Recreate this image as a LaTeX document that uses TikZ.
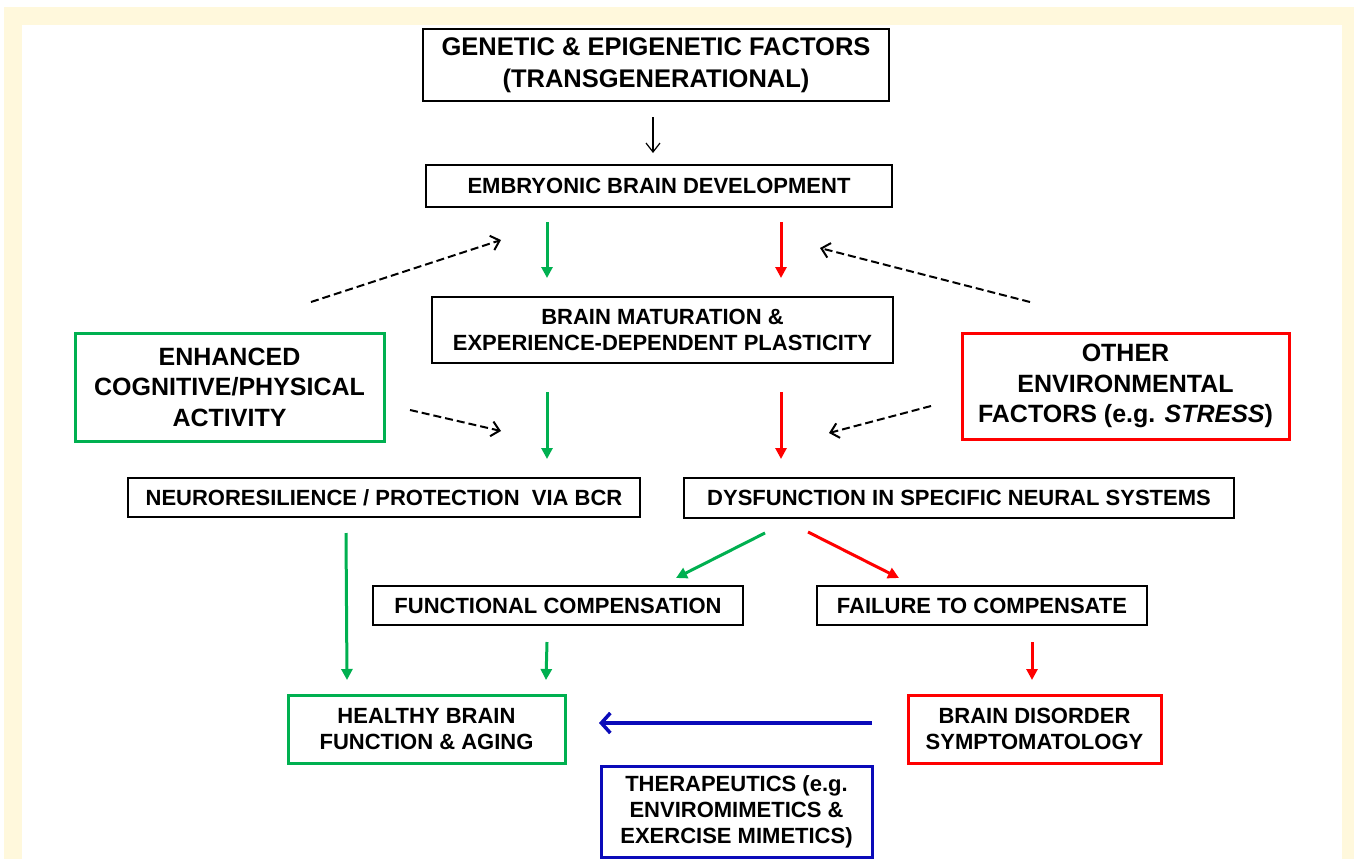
\documentclass[tikz,border=0pt]{standalone}
\usepackage{fontspec}
\setmainfont{Liberation Sans}
\usetikzlibrary{arrows.meta}
\definecolor{pgreen}{RGB}{0,176,80}
\definecolor{pred}{RGB}{255,0,0}
\definecolor{pblue}{RGB}{10,10,185}
\definecolor{pframe}{RGB}{255,248,220}
\tikzset{plainbox/.style={draw=black, line width=1.3pt, fill=white, align=center, inner sep=0pt,
  font=\fontsize{22}{26}\selectfont\bfseries},
gbox/.style={plainbox, draw=pgreen, line width=3pt},
rbox/.style={plainbox, draw=pred, line width=3pt},
bbox/.style={plainbox, draw=pblue, line width=3pt},
garrow/.style={-{Triangle[length=11pt,width=11pt]}, line width=3pt, draw=pgreen},
rarrow/.style={garrow, draw=pred},
dasharrow/.style={-{Straight Barb[length=8pt,width=15pt]}, line width=2pt, dash pattern=on 8pt off 4pt},
% default tip of the plain arrows is an open barb
barb/.style={-{Straight Barb[length=9pt,width=#1]}},
barb/.default={14pt}}

\begin{document}
\begin{tikzpicture}[x=1pt,y=-1pt]
\useasboundingbox (0,0) rectangle (1354,859);
\fill[pframe] (4,7) rectangle (1354,859);
\fill[white] (22,25) rectangle (1342,859);

\node[plainbox, minimum width=466, minimum height=72, font=\fontsize{25.5}{32}\selectfont\bfseries] (genes) at (656,65)
  {GENETIC \& EPIGENETIC FACTORS\\(TRANSGENERATIONAL)};
\node[plainbox, minimum width=466, minimum height=42] (embryo) at (659,186) {EMBRYONIC BRAIN DEVELOPMENT};
\node[plainbox, minimum width=461, minimum height=66] (mature) at (662.5,330)
  {BRAIN MATURATION \&\\EXPERIENCE-DEPENDENT PLASTICITY};
\node[gbox, minimum width=309, minimum height=108, font=\fontsize{25}{30.5}\selectfont\bfseries] (active) at (229.5,387)
  {ENHANCED\\COGNITIVE/PHYSICAL\\ACTIVITY};
\node[rbox, minimum width=327, minimum height=106, font=\fontsize{25}{30.5}\selectfont\bfseries] (environ) at (1125.5,386)
  {OTHER\\ENVIRONMENTAL\\FACTORS (e.g. \textit{STRESS})};
\node[plainbox, minimum width=512, minimum height=39] (resil) at (384,497.5)
  {NEURORESILIENCE / PROTECTION~~VIA BCR};
\node[plainbox, minimum width=550, minimum height=40] (dysfunc) at (959,498)
  {DYSFUNCTION IN SPECIFIC NEURAL SYSTEMS};
\node[plainbox, minimum width=370, minimum height=39] (comp) at (558,605.5) {FUNCTIONAL COMPENSATION};
\node[plainbox, minimum width=330, minimum height=39] (fail) at (982,605.5) {FAILURE TO COMPENSATE};
\node[gbox, minimum width=277, minimum height=68] (healthy) at (426.5,729) {HEALTHY BRAIN\\FUNCTION \& AGING};
\node[rbox, minimum width=253, minimum height=68] (disorder) at (1034.5,729) {BRAIN DISORDER\\SYMPTOMATOLOGY};
\node[bbox, minimum width=271, minimum height=91] (therapy) at (736.5,811.5)
  {THERAPEUTICS (e.g.\\ENVIROMIMETICS \&\\EXERCISE MIMETICS)};

\coordinate (k1) at (653,117);  \coordinate (k2) at (653,153);
\coordinate (g1) at (547,222);  \coordinate (g2) at (547,278);
\coordinate (g3) at (547,392);  \coordinate (g4) at (547,459);
\coordinate (g5) at (765,533);  \coordinate (g6) at (676,578);
\coordinate (g7) at (346,533);  \coordinate (g8) at (347,680);
\coordinate (g9) at (547,642);  \coordinate (g10) at (546,680);
\coordinate (r1) at (781,222);  \coordinate (r2) at (781,278);
\coordinate (r3) at (781,392);  \coordinate (r4) at (781,459);
\coordinate (r5) at (808,532);  \coordinate (r6) at (899,578);
\coordinate (r7) at (1032,642); \coordinate (r8) at (1032,680);
\coordinate (d1) at (311,302);  \coordinate (d2) at (501,240);
\coordinate (d3) at (1030,302); \coordinate (d4) at (820,248);
\coordinate (d5) at (410,410);  \coordinate (d6) at (501,431);
\coordinate (d7) at (931,406);  \coordinate (d8) at (829,433);
\coordinate (b1) at (872,723);  \coordinate (b2) at (599,723);

\draw[barb, line width=1.2pt] (k1) -- (k2);

\foreach \a/\b in {g1/g2, g3/g4, g5/g6, g7/g8, g9/g10}
    \draw[garrow] (\a) -- (\b);

\foreach \a/\b in {r1/r2, r3/r4, r5/r6, r7/r8}
    \draw[rarrow] (\a) -- (\b);

\foreach \a/\b in {d1/d2, d3/d4, d5/d6, d7/d8}
    \draw[dasharrow] (\a) -- (\b);

\draw[barb=20pt, line width=3.5pt, draw=pblue] (b1) -- (b2);

\end{tikzpicture}
\end{document}
